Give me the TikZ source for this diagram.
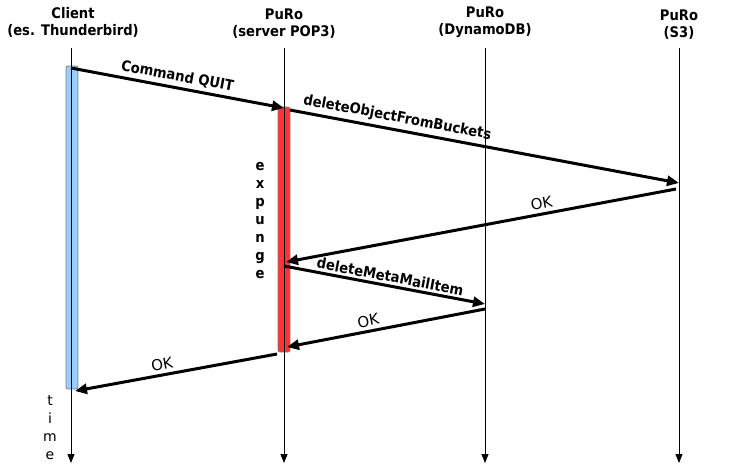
\documentclass[tikz,border=0pt]{standalone}
\usepackage{fontspec}
\setmainfont{DejaVu Sans}
\newfontfamily\condfont{DejaVu Sans Condensed}
\usetikzlibrary{arrows.meta}

\tikzset{
  head/.style={font=\condfont\bfseries\fontsize{14.6}{17}\selectfont, align=center},
  lifeline/.style={line width=0.8pt, -{Triangle[width=7pt,length=9pt]}},
  msg/.style={line width=3pt, -{Triangle[width=10pt,length=12pt]}},
  msgtext/.style={font=\condfont\bfseries\fontsize{14.6}{16}\selectfont, sloped, above},
  oktext/.style={font=\fontsize{15}{16}\selectfont, sloped, above},
  activity/.style={draw=gray, rounded corners=2pt, line width=0.8pt},
  vtext/.style={align=center, inner sep=0pt}
}

\begin{document}
\begin{tikzpicture}[x=1pt,y=-1pt]
    \useasboundingbox (0,0) rectangle (747,467);
    % participants
    \node [head] (client) at (73,22) {Client\\(es. Thunderbird)};
    \node [head] (pop)    at (284,24) {PuRo\\(server POP3)};
    \node [head] (dynamo) at (485,22) {PuRo\\(DynamoDB)};
    \node [head] (s3)     at (679,25) {PuRo\\(S3)};

    % activity bars
    \draw [activity, fill={rgb,255:red,153;green,204;blue,255}] (66,66) rectangle (78,389);
    \draw [activity, fill={rgb,255:red,255;green,51;blue,51}] (278,107) rectangle (290,352);

    % lifelines
    \coordinate (client top) at (71,48);  \coordinate (client end) at (71,463);
    \coordinate (pop top)    at (284,48); \coordinate (pop end)    at (284,463);
    \coordinate (dynamo top) at (485,48); \coordinate (dynamo end) at (485,463);
    \coordinate (s3 top)     at (679,48); \coordinate (s3 end)     at (679,463);
    \draw [lifeline] (client top) -- (client end);
    \draw [lifeline] (pop top) -- (pop end);
    \draw [lifeline] (dynamo top) -- (dynamo end);
    \draw [lifeline] (s3 top) -- (s3 end);

    % messages
    \coordinate (quit a) at (71,68);   \coordinate (quit b) at (284,108);
    \coordinate (obj a)  at (290,110); \coordinate (obj b)  at (679,183);
    \coordinate (ok1 a)  at (676,189); \coordinate (ok1 b)  at (286,262);
    \coordinate (meta a) at (284,266); \coordinate (meta b) at (485,304);
    \coordinate (ok2 a)  at (485,309); \coordinate (ok2 b)  at (287,347);
    \coordinate (ok3 a)  at (277,354); \coordinate (ok3 b)  at (75,391);

    \draw [msg] (quit a) -- node [msgtext, pos=0.49] {Command QUIT} (quit b);
    \draw [msg] (obj a) -- node [msgtext, pos=0.27] {deleteObjectFromBuckets} (obj b);
    \draw [msg] (ok1 a) -- node [oktext, pos=0.34] {OK} (ok1 b);
    \draw [msg] (meta a) -- node [msgtext, pos=0.52, above=-1pt] {deleteMetaMailItem} (meta b);
    \draw [msg] (ok2 a) -- node [oktext, pos=0.58] {OK} (ok2 b);
    \draw [msg] (ok3 a) -- node [oktext, pos=0.56] {OK} (ok3 b);

    % side texts
    \node [vtext, font=\condfont\bfseries\fontsize{14.6}{18}\selectfont] (expunge) at (260,221) {e\\x\\p\\u\\n\\g\\e};
    \node [vtext, font=\fontsize{14}{18}\selectfont] (time) at (50,428) {t\\i\\m\\e};
\end{tikzpicture}
\end{document}
